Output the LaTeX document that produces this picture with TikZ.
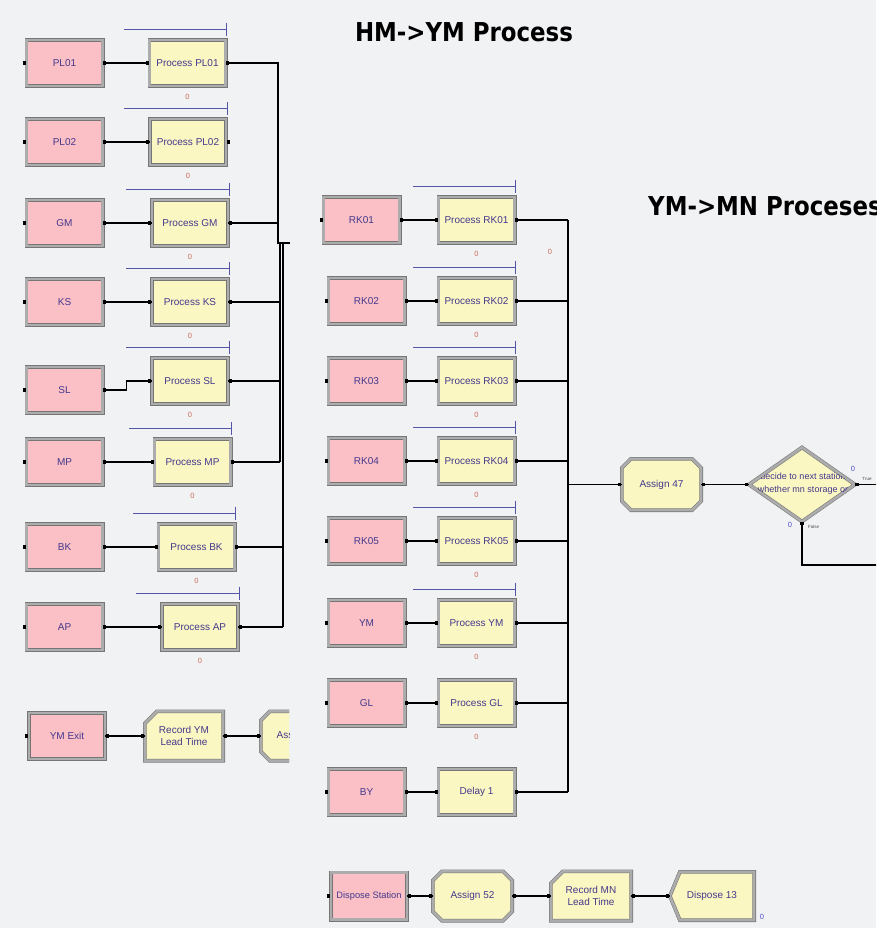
\documentclass[tikz,border=0pt]{standalone}
\usepackage{fontspec}
\usepackage{graphicx}
\setmainfont{Liberation Sans}
\newfontfamily\ttlfont{DejaVu Sans}
\usetikzlibrary{calc,shapes.geometric}
\definecolor{bgc}{RGB}{241,242,244}
\definecolor{pinkc}{RGB}{250,192,198}
\definecolor{yelc}{RGB}{250,247,194}
\definecolor{frmc}{RGB}{172,172,172}
\definecolor{frmd}{RGB}{118,118,118}
\definecolor{txtc}{RGB}{68,56,140}
\definecolor{barc}{RGB}{84,84,168}
\definecolor{zeroc}{RGB}{205,110,90}
\definecolor{bluez}{RGB}{80,80,200}
\tikzset{
 module/.style={draw=frmd, double=frmc, double distance=2.6pt, line width=0.55pt},
 lbl/.style={text=txtc, font=\fontsize{10}{11.5}\selectfont, inner sep=0pt, align=center},
 pinkbox/.style={rectangle, module, fill=pinkc, lbl, minimum width=76.3pt, minimum height=46.3pt},
 procbox/.style={rectangle, module, fill=yelc, lbl, minimum width=76.3pt, minimum height=46.3pt},
 conn/.style={draw=black, line width=1.1pt},
 bar/.style={draw=barc, line width=0.9pt},
 zero/.style={text=zeroc, font=\fontsize{7.5}{8}\selectfont, inner sep=0pt},
 zerob/.style={text=bluez, font=\fontsize{7.5}{8}\selectfont, inner sep=0pt},
 tinylbl/.style={text=black!70, font=\fontsize{4.5}{5}\selectfont, inner sep=0pt},
 ttl/.style={font=\ttlfont\bfseries\fontsize{26}{30}\selectfont, inner sep=0pt},
 dectext/.style={text=txtc, font=\fontsize{9}{13}\selectfont, inner sep=0pt, align=center}
}
% dots
\newcommand\pdE[1]{\fill[black] ($(#1)+(0.5,-1.6)$) rectangle ($(#1)+(3.5,1.6)$);}
\newcommand\pdW[1]{\fill[black] ($(#1)+(-3.5,-1.6)$) rectangle ($(#1)+(-0.5,1.6)$);}
% assign: name, x, y, half w, half h, text
\newcommand\asgn[6]{%
 \path[module,fill=yelc] (#2-#4+9,#3-#5) -- (#2+#4-9,#3-#5) -- (#2+#4,#3-#5+9) -- (#2+#4,#3+#5-9) -- (#2+#4-9,#3+#5) -- (#2-#4+9,#3+#5) -- (#2-#4,#3+#5-9) -- (#2-#4,#3-#5+9) -- cycle;
 \node[lbl, minimum width={2*#4pt}, minimum height={2*#5pt}] (#1) at (#2,#3) {#6};}
\newcommand\recnode[6]{%
 \path[module,fill=yelc] (#2-#4+12,#3-#5) -- (#2+#4,#3-#5) -- (#2+#4,#3+#5) -- (#2-#4,#3+#5) -- (#2-#4,#3-#5+12) -- cycle;
 \node[lbl, minimum width={2*#4pt}, minimum height={2*#5pt}] (#1) at (#2,#3) {#6};}
\newcommand\dispnode[6]{%
 \path[module,fill=yelc] (#2-#4+10,#3-#5) -- (#2+#4,#3-#5) -- (#2+#4,#3+#5) -- (#2-#4+10,#3+#5) -- (#2-#4,#3) -- cycle;
 \node[lbl, minimum width={2*#4pt}, minimum height={2*#5pt}] (#1) at (#2,#3) {#6};}
\begin{document}
\begin{tikzpicture}[x=1pt,y=-1pt]
\useasboundingbox (0,0) rectangle (876,928);
\fill[bgc] (0,0) rectangle (876,928);
\clip (0,0) rectangle (876,928);

% titles
\node[ttl, anchor=base] (t1) at (464,42) {\scalebox{0.88}[1]{HM->YM Process}};
\node[ttl, anchor=base west] (t2) at (648,215) {\scalebox{0.88}[1]{YM->MN Proceses}};

% left column
\foreach \n/\t/\yp/\xq/\yq in {pl01/PL01/63/187.5/63, pl02/PL02/142/188/142, gm/GM/223/190/223, ks/KS/302/190/302, sl/SL/390/190/381, mp/MP/462/192.5/462, bk/BK/547/196.5/547, ap/AP/627/200/627}{
 \node[pinkbox] (s\n) at (64.5,\yp) {\t};
 \node[procbox] (p\n) at (\xq,\yq) {Process \t};
 \draw[conn] (s\n.east) -- ++(24,0) |- (p\n.west);
 \pdW{s\n.west} \pdE{s\n.east} \pdW{p\n.west} \pdE{p\n.east}
 \draw[bar] ($(p\n.north east)+(1,-10)$) coordinate (b\n) -- ++(-103,0);
 \draw[bar] ($(b\n)+(0,-7)$) -- ($(b\n)+(0,6)$);
 \node[zero] at ($(p\n.south)+(0,10)$) {0};
}
% left trunk
\coordinate (ta) at (278,0);
\coordinate (tb) at (280,0);
\coordinate (tc) at (283,0);
\coordinate (tj) at (278,243);
\coordinate (tk) at (290,243);
\draw[conn] (ppl01.east) -- (ppl01.east -| ta) -- (tj) -- (tk);
\draw[conn] (pgm.east) -- (pgm.east -| ta);
\draw[conn] (pks.east) -- (pks.east -| tb);
\draw[conn] (psl.east) -- (psl.east -| tb);
\draw[conn] (pmp.east) -- (pmp.east -| tb);
\draw[conn] (pbk.east) -- (pbk.east -| tc);
\draw[conn] (pap.east) -- (pap.east -| tc);
\draw[conn] (tb |- tj) -- (tb |- pmp.east);
\draw[conn] (tc |- tj) -- (tc |- pap.east);

% middle column
\foreach \n/\t/\xs/\y/\pt in {rk01/RK01/361.5/220/Process RK01, rk02/RK02/366.5/301/Process RK02, rk03/RK03/366.5/381/Process RK03, rk04/RK04/366.5/461/Process RK04, rk05/RK05/366.5/541/Process RK05, ym/YM/366.5/623/Process YM, gl/GL/366.5/703/Process GL, by/BY/366.5/792/Delay 1}{
 \node[pinkbox] (s\n) at (\xs,\y) {\t};
 \node[procbox] (p\n) at (476.5,\y) {\pt};
 \draw[conn] (s\n.east) -- (p\n.west);
 \pdW{s\n.west} \pdE{s\n.east} \pdW{p\n.west} \pdE{p\n.east}
}
\foreach \n in {rk01,rk02,rk03,rk04,rk05,ym}{
 \draw[bar] ($(p\n.north east)+(1,-10)$) coordinate (b\n) -- ++(-103,0);
 \draw[bar] ($(b\n)+(0,-7)$) -- ($(b\n)+(0,6)$);
}
\foreach \n in {rk01,rk02,rk03,rk04,rk05,ym,gl}{
 \node[zero] at ($(p\n.south)+(0,10)$) {0};
}
\node[zero] (zx) at (550,252) {0};
\coordinate (tm) at (568,0);
\foreach \n in {rk01,rk02,rk03,rk04,rk05,ym,gl,by}{
 \draw[conn] (p\n.east) -- (p\n.east -| tm);
}
\draw[conn] (tm |- prk01.east) -- (tm |- pby.east);

% assign 47 and decide
\asgn{a47}{661.5}{484.5}{39.65}{25.65}{Assign 47}
\draw[conn] (tm |- a47.west) -- (a47.west);
\pdW{a47.west} \pdE{a47.east}
\node[diamond, module, fill=yelc, minimum width=106.3pt, minimum height=74.3pt, inner sep=0pt] (dec) at (802,484.5) {};
\begin{scope}
 \clip ([xshift=-2pt]dec.east) -- ([yshift=-2pt]dec.north) -- ([xshift=2pt]dec.west) -- ([yshift=2pt]dec.south) -- cycle;
 \node[dectext] (dect) at (803,484) {decide to next station\\whether mn storage or};
\end{scope}
\draw[conn] (a47.east) -- (dec.west);
\pdW{dec.west}
\coordinate (dT) at (880,484.5);
\coordinate (dF) at (880,565);
\draw[conn] (dec.east) -- (dT);
\draw[conn] (dec.south) |- (dF);
\fill[black] ($(dec.east)+(0,-1.6)$) rectangle ($(dec.east)+(3.2,1.6)$);
\fill[black] ($(dec.south)+(-1.6,0)$) rectangle ($(dec.south)+(1.6,3.2)$);
\node[zerob] (z1) at (853,469) {0};
\node[tinylbl] (tt) at (867,479) {True};
\node[zerob] (z2) at (790,525) {0};
\node[tinylbl, anchor=west] (tf) at (808,527) {False};

% bottom left (clipped)
\begin{scope}
 \clip (0,690) rectangle (289,790);
 \node[pinkbox] (sye) at (67,736) {YM Exit};
 \recnode{rym}{184}{736}{39.15}{24.65}{Record YM\\Lead Time}
 \asgn{aym}{300}{736}{39.15}{24.65}{}
 \node[lbl, anchor=west] (aymt) at (276.5,736) {Assign};
 \draw[conn] (sye.east) -- (rym.west);
 \draw[conn] (rym.east) -- (aym.west);
 \pdW{sye.west} \pdE{sye.east} \pdW{rym.west} \pdE{rym.east} \pdW{aym.west}
\end{scope}

% bottom row
\node[pinkbox, minimum height=47.3pt, font=\fontsize{9.3}{11}\selectfont] (sds) at (369,896) {Dispose Station};
\asgn{a52}{472.5}{896}{39.65}{24.65}{Assign 52}
\recnode{rmn}{591}{896}{40.15}{24.65}{Record MN\\Lead Time}
\dispnode{d13}{712}{896}{42.15}{24.15}{Dispose 13}
\draw[conn] (sds.east) -- (a52.west);
\draw[conn] (a52.east) -- (rmn.west);
\draw[conn] (rmn.east) -- (d13.west);
\pdW{sds.west} \pdE{sds.east} \pdW{a52.west} \pdE{a52.east} \pdW{rmn.west} \pdE{rmn.east} \pdW{d13.west}
\node[zerob] (z3) at (762,917) {0};
\end{tikzpicture}
\end{document}
